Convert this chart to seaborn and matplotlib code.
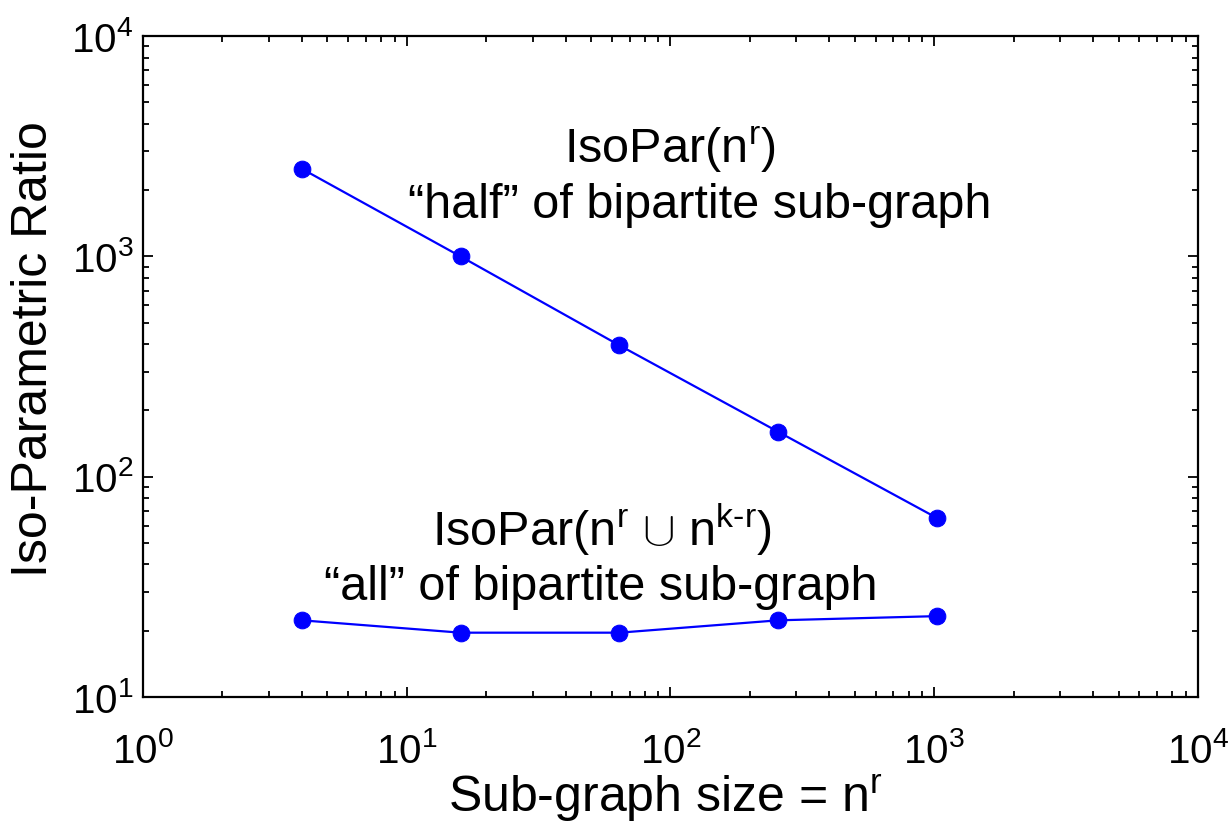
import numpy as np
import pandas as pd
import matplotlib
matplotlib.use("Agg")
import matplotlib.pyplot as plt
import seaborn as sns
from matplotlib.ticker import LogLocator, LogFormatterSciNotation, NullFormatter

# Sub-graph sizes n^r and iso-parametric ratios
subgraph_size = [4, 16, 64, 256, 1024]
isopar_half = [2500, 1000, 395, 160, 65]
isopar_all = [22.3, 19.6, 19.6, 22.3, 23.3]

x_ticks = [1, 10, 100, 1000, 10000]
y_ticks = [10, 100, 1000, 10000]

df = pd.DataFrame({
    "size": subgraph_size * 2,
    "ratio": isopar_half + isopar_all,
    "series": ["half"] * len(subgraph_size) + ["all"] * len(subgraph_size),
})

sns.set_style("white")
plt.rcParams["font.family"] = ["Liberation Sans", "DejaVu Sans"]
plt.rcParams["mathtext.fontset"] = "custom"
plt.rcParams["mathtext.rm"] = "Liberation Sans"
plt.rcParams["mathtext.it"] = "Liberation Sans"
plt.rcParams["mathtext.bf"] = "Liberation Sans:bold"
for key in ["text.color", "axes.labelcolor", "xtick.color", "ytick.color", "axes.edgecolor"]:
    plt.rcParams[key] = "black"

fig = plt.figure(figsize=(12.28, 8.22), dpi=100)
ax = fig.add_axes([0.1165, 0.152, 0.859, 0.804])

sns.lineplot(data=df, x="size", y="ratio", units="series", estimator=None,
             color="#0000ff", marker="o", markersize=12, markeredgecolor="#0000ff",
             linewidth=1.6, ax=ax, legend=False)

ax.set_xscale("log")
ax.set_yscale("log")
ax.set_xlim(1, 1e4)
ax.set_ylim(10, 1e4)

ax.set_xticks(x_ticks)
ax.set_yticks(y_ticks)
ax.xaxis.set_minor_locator(LogLocator(base=10, subs=np.arange(2, 10), numticks=20))
ax.yaxis.set_minor_locator(LogLocator(base=10, subs=np.arange(2, 10), numticks=20))
ax.xaxis.set_major_formatter(LogFormatterSciNotation())
ax.yaxis.set_major_formatter(LogFormatterSciNotation())
ax.xaxis.set_minor_formatter(NullFormatter())
ax.yaxis.set_minor_formatter(NullFormatter())

ax.tick_params(which="both", direction="in", top=True, right=True,
               bottom=True, left=True, color="black", width=1.3)
ax.tick_params(which="major", length=7, labelsize=29)
ax.tick_params(axis="x", which="major", pad=25)
ax.tick_params(axis="y", which="major", pad=7)
ax.tick_params(which="minor", length=4)
for s in ax.spines.values():
    s.set_visible(True)
    s.set_color("black")
    s.set_linewidth(1.6)

ax.set_xlabel(r"Sub-graph size = n$^{\mathrm{r}}$", fontsize=36, va="center")
ax.set_ylabel("Iso-Parametric Ratio", fontsize=36, va="center")
ax.xaxis.set_label_coords(0.495, -0.152)
ax.yaxis.set_label_coords(-0.103, 0.527)

ann = dict(fontsize=35, ha="center", va="center", transform=ax.transAxes)
ax.text(0.4995, 0.8275, r"IsoPar(n$^{\mathrm{r}}$)", **ann)
ax.text(0.528, 0.7443, "\u201chalf\u201d of bipartite sub-graph", **ann)
ax.text(0.435, 0.2526, r"IsoPar(n$^{\mathrm{r}}$ $\cup$ n$^{\text{k-r}}$)", **ann)
ax.text(0.434, 0.1664, "\u201call\u201d of bipartite sub-graph", **ann)

fig.savefig("out.png", dpi=100, facecolor="white")
